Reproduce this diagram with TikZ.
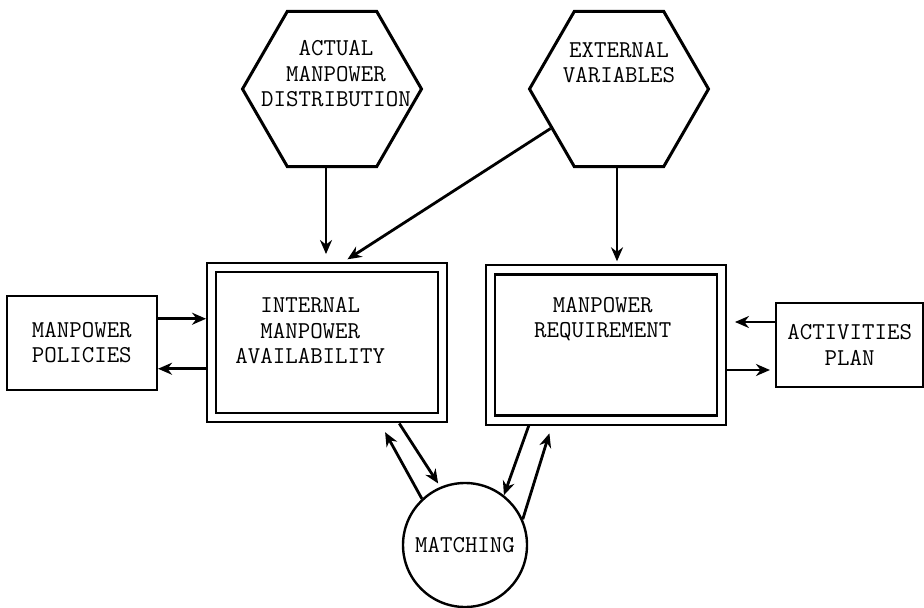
\documentclass[tikz,border=0pt]{standalone}
\usepackage{fontspec}
\usepackage{tikz}
\usetikzlibrary{positioning,shapes.geometric,arrows.meta,calc}
\newcommand{\letra}{\ttfamily\fontsize{12.1}{12.75}\selectfont}
\tikzset{
  hexagono/.style = {draw, regular polygon, regular polygon sides=6,
                     minimum size=89.5pt, inner sep=0pt, line width=1.5pt},
  bloque/.style   = {draw, double, double distance=3.5pt, line width=1.1pt,
                     outer sep=2.85pt, minimum width=115.5pt, minimum height=75pt,
                     inner sep=0pt},
  caja/.style     = {draw, line width=1.2pt, align=center, font=\letra},
  circulo/.style  = {draw, circle, line width=1.2pt, minimum size=62pt,
                     inner sep=0pt, font=\letra},
  texto/.style    = {align=center, font=\letra},
  flecha/.style   = {line width=1.4pt, -{Stealth[length=7pt, width=6pt]}}
}

\begin{document}
\begin{tikzpicture}[x=0.5pt, y=-0.5pt]
    \useasboundingbox (0,0) rectangle (924,608);

    % entradas
    \node[hexagono] (actual) at (332,89) {};
    \node[texto] (actualtxt) at ([xshift=2pt, yshift=7.5pt]actual.center) {ACTUAL\\MANPOWER\\DISTRIBUTION};
    \node[hexagono] (extvar) at (619,89) {};
    \node[texto] (extvartxt) at ([yshift=13.25pt]extvar.center) {EXTERNAL\\VARIABLES};

    % bloques centrales
    \node[bloque] (avail) at (327.25,342.75) {};
    \node[texto] (availtxt) at ([xshift=-8.5pt, yshift=6pt]avail.center) {INTERNAL\\MANPOWER\\AVAILABILITY};
    \node[bloque] (req) at (605.75,345) {};
    \node[texto] (reqtxt) at ([xshift=-1.5pt, yshift=13pt]req.center) {MANPOWER\\REQUIREMENT};

    \node[caja, minimum width=75pt, minimum height=47pt, left=24pt of avail] (policies) {MANPOWER\\POLICIES};
    \node[caja, minimum width=73.5pt, minimum height=42pt, right=24pt of req] (plan) {ACTIVITIES\\PLAN};
    \node[circulo] (match) at (465,545) {MATCHING};

    \draw[flecha, shorten >=4pt] ([xshift=-3pt]actual.south) -- ([xshift=-3pt]actual.south |- avail.north);
    \draw[flecha, shorten >=2.5pt] (extvar.210) -- ([xshift=8pt]avail.north);
    \draw[flecha, shorten >=1.5pt] ([xshift=-1pt]extvar.south) -- ([xshift=-1pt]extvar.south |- req.north);

    \draw[flecha] ([yshift=12pt]policies.east) -- ([yshift=12pt]policies.east -| avail.west);
    \draw[flecha] ([yshift=-13pt]policies.east -| avail.west) -- ([yshift=-13pt]policies.east);

    \draw[flecha, shorten >=4pt] ([yshift=11.5pt]plan.west) -- ([yshift=11.5pt]plan.west -| req.east);
    \draw[flecha, shorten >=2.5pt] ([yshift=-12.5pt]plan.west -| req.east) -- ([yshift=-12.5pt]plan.west);

    \draw[flecha, shorten >=5pt] (match.133) -- ([xshift=26.5pt]avail.south);
    \draw[flecha, shorten >=2pt] ([xshift=36pt]avail.south) -- (match.113);
    \draw[flecha] ([xshift=-38.5pt]req.south) -- (match.52);
    \draw[flecha, shorten >=4pt] (match.24) -- ([xshift=-27pt]req.south);
  \end{tikzpicture}
\end{document}
